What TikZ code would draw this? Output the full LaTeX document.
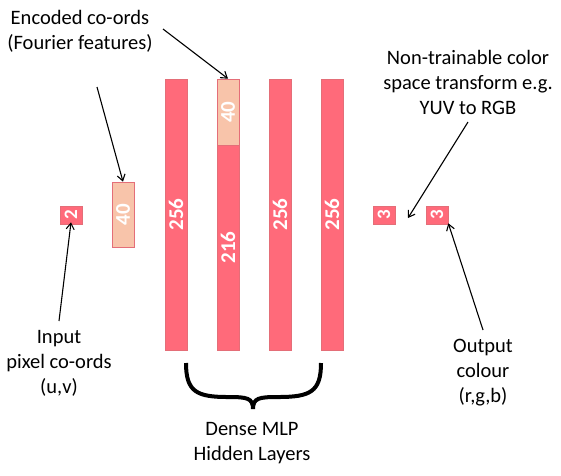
\documentclass[tikz,border=0pt]{standalone}
\usepackage{fontspec}
\setmainfont{Carlito}
\usetikzlibrary{arrows.meta}
\definecolor{barred}{RGB}{255,106,122}
\definecolor{barpeach}{RGB}{248,196,170}
\definecolor{baredge}{RGB}{228,110,120}
\tikzset{
  layer/.style={draw=baredge, line width=0.6pt, fill=barred, inner sep=0pt, minimum width=22pt},
  enclayer/.style={layer, fill=barpeach},
  num/.style={text=white, font=\fontsize{21}{21}\selectfont\bfseries, rotate=90, inner sep=0pt},
  smallnum/.style={text=white, font=\fontsize{19}{19}\selectfont\bfseries, rotate=90, inner sep=0pt},
  lbl/.style={align=center, font=\fontsize{20.5}{25}\selectfont, inner sep=0pt},
  pointer/.style={-{Straight Barb[length=6pt,width=8pt]}, line width=1.1pt, black},
}
\begin{document}
\begin{tikzpicture}[x=1pt,y=-1pt]
\useasboundingbox (0,0) rectangle (561,475);
% input
\node[layer, minimum height=18pt] (in) at (71,215) {};
\node[smallnum] at (in) {2};
% encoding
\node[enclayer, minimum height=65pt] (enc) at (123,214.5) {};
\node[num] at (enc) {40};
% hidden layers
\node[layer, minimum height=271pt] (h1) at (176,214.5) {};
\node[num] at (h1) {256};
\node[layer, minimum height=205pt] (h2) at (228,247.5) {};
\node[num] at (h2) {216};
\node[enclayer, minimum height=66pt] (h2e) at (228,112) {};
\node[num] at (h2e) {40};
\node[layer, minimum height=271pt] (h3) at (280,214.5) {};
\node[num] at (h3) {256};
\node[layer, minimum height=271pt] (h4) at (332,214.5) {};
\node[num] at (h4) {256};
% outputs
\node[layer, minimum height=18pt] (o1) at (384,215) {};
\node[smallnum] at (o1) {3};
\node[layer, minimum height=18pt] (o2) at (437,215) {};
\node[smallnum] at (o2) {3};
% labels
\node[lbl] (lenc) at (80,31) {Encoded co-ords\\(Fourier features)};
\node[lbl] (lcol) at (468,82) {Non-trainable color\\space transform e.g.\\YUV to RGB};
\node[lbl] (linp) at (59,363) {Input\\pixel co-ords\\(u,v)};
\node[lbl] (lout) at (483,373) {Output\\colour\\(r,g,b)};
\node[lbl] (ldense) at (252,443) {Dense MLP\\Hidden Layers};
% arrow start points
\coordinate (s1) at (97,87);
\coordinate (s2) at (163,29);
\coordinate (s3) at (468,122);
\coordinate (t3) at (408,218);
\coordinate (s4) at (59,321);
\coordinate (s5) at (483,330);
\draw[pointer] (s1) -- (enc.north);
\draw[pointer] (s2) -- (h2e.north);
\draw[pointer] (s3) -- (t3);
\draw[pointer] (s4) -- ([yshift=2pt]in.south);
\draw[pointer] (s5) -- ([yshift=1pt]o2.south east);
% brace
\coordinate (bl) at (186,363);
\coordinate (br) at (321,363);
\coordinate (bt) at (253,409);
\draw[line width=4pt, black, line cap=butt]
  (bl) .. controls (186,392) and (197,397) .. (228,397)
  .. controls (247,397) and (253,398) .. (bt);
\draw[line width=4pt, black, line cap=butt]
  (br) .. controls (321,392) and (310,397) .. (278,397)
  .. controls (259,397) and (253,398) .. (bt);
\end{tikzpicture}
\end{document}
